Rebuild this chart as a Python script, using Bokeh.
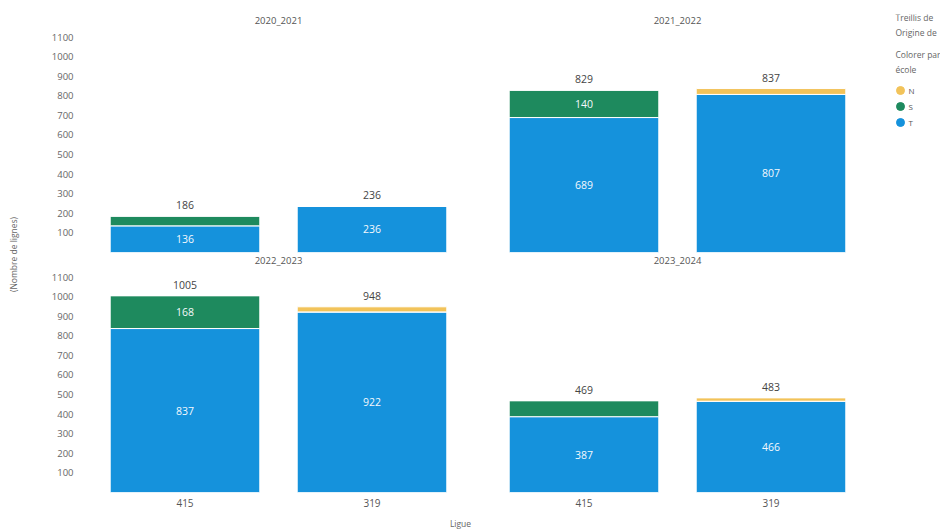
import math
from bokeh.plotting import figure
from bokeh.models import (FactorRange, Range1d, FixedTicker, Label, ColumnDataSource)
from bokeh.layouts import row, column
from bokeh.embed import file_html
from bokeh.resources import INLINE
from bokeh.core.properties import value

# ---------------- data ----------------
years = ["2020_2021", "2021_2022", "2022_2023", "2023_2024"]
ligues = ["415", "319"]
T_vals = [[136, 236], [689, 807], [837, 922], [387, 466]]
S_vals = [[50, 0], [140, 0], [168, 0], [82, 0]]
N_vals = [[0, 0], [0, 30], [0, 26], [0, 17]]
legend_order = ["N", "S", "T"]
y_ticks = [100, 200, 300, 400, 500, 600, 700, 800, 900, 1000, 1100]
legend_heading = ["Treillis de", "Origine de", "Colorer par", "école"]
y_title = "(Nombre de lignes)"
x_title = "Ligue"

# ---------------- style ----------------
COLORS = {"T": "#1592DC", "S": "#1E8A5E", "N": "#F2C35A"}
FONT = "Open Sans"
Y_MAX = 1215
TITLE_Y = 1185
FRAME_W = 374
FRAME_H = 238
MIN_LABEL = 100
LEG_SHIFT = 14


def blank(p):
    p.min_border = 0
    p.min_border_left = 0
    p.min_border_right = 0
    p.min_border_top = 0
    p.min_border_bottom = 0
    p.outline_line_color = None
    p.xgrid.visible = False
    p.ygrid.visible = False


def strip_fig(w, h):
    p = figure(x_range=Range1d(0, w), y_range=Range1d(0, h),
               frame_width=w, frame_height=h, title=None,
               x_axis_location=None, y_axis_location=None,
               output_backend="svg", toolbar_location=None, tools="")
    blank(p)
    return p


def panel(i, left, bottom):
    p = figure(x_range=FactorRange(*ligues), y_range=Range1d(0, Y_MAX),
               frame_width=FRAME_W, frame_height=FRAME_H, title=None,
               x_axis_location="below" if bottom else None,
               y_axis_location="left" if left else None,
               output_backend="svg", toolbar_location=None, tools="")
    blank(p)
    p.min_border_left = 69 if left else 13
    p.min_border_right = 12 if left else 0
    p.min_border_top = 0 if bottom else 14
    p.min_border_bottom = 22 if bottom else 2

    T = T_vals[i]
    S = S_vals[i]
    N = N_vals[i]
    src = ColumnDataSource(dict(x=ligues, T=T, S=S, N=N))
    p.vbar_stack(["T", "S", "N"], x="x", width=0.8, source=src,
                 color=[COLORS["T"], COLORS["S"], COLORS["N"]],
                 line_color="white", line_width=1)

    totals = [a + b + c for a, b, c in zip(T, S, N)]
    p.text(x=ligues, y=totals, text=[str(t) for t in totals],
           text_align="center", text_baseline="middle", y_offset=-11,
           text_font=value(FONT), text_font_size="10.5px", text_color="#444444")

    lx, ly, lt = [], [], []
    for k, lig in enumerate(ligues):
        base = 0
        for seg in (T, S, N):
            v = seg[k]
            if v >= MIN_LABEL:
                lx.append(lig)
                ly.append(base + v / 2)
                lt.append(str(v))
            base += v
    p.text(x=lx, y=ly, text=lt, text_align="center", text_baseline="middle",
           text_font=value(FONT), text_font_size="10.5px", text_color="#F4F8FC")

    p.add_layout(Label(x=FRAME_W / 2, y=TITLE_Y, x_units="screen", y_units="data",
                       text=years[i], text_align="center", text_baseline="middle",
                       text_font=FONT, text_font_size="9.5px", text_color="#555555"))

    if left:
        ax = p.yaxis[0]
        ax.ticker = FixedTicker(ticks=y_ticks)
        ax.axis_line_color = None
        ax.major_tick_line_color = None
        ax.minor_tick_line_color = None
        ax.major_tick_out = 0
        ax.major_tick_in = 0
        ax.major_label_standoff = 18
        ax.major_label_text_font = FONT
        ax.major_label_text_font_size = "9.5px"
        ax.major_label_text_color = "#666666"
    if bottom:
        ax = p.xaxis[0]
        ax.axis_line_color = None
        ax.major_tick_line_color = None
        ax.minor_tick_line_color = None
        ax.major_tick_out = 0
        ax.major_tick_in = 0
        ax.major_label_standoff = 6
        ax.major_label_text_font = FONT
        ax.major_label_text_font_size = "10px"
        ax.major_label_text_color = "#555555"
    return p


tl = panel(0, True, False)
tr = panel(1, False, False)
bl = panel(2, True, True)
br = panel(3, False, True)

# ---------- y title strip ----------
strip = strip_fig(22, 530)
strip.text(x=[13], y=[276], text=[y_title], angle=math.pi / 2,
           text_align="center", text_baseline="middle",
           text_font=value(FONT), text_font_size="8.5px", text_color="#666666")

# ---------- x title strip ----------
xstrip = strip_fig(842, 16)
xstrip.text(x=[438], y=[7], text=[x_title], text_align="center", text_baseline="middle",
            text_font=value(FONT), text_font_size="8.5px", text_color="#666666")

# ---------- legend (pixel-space figure) ----------
lp = strip_fig(76, 254)
head_y = [y + LEG_SHIFT for y in (237, 222, 200, 185)]
lp.text(x=[31, 31, 31, 31], y=head_y, text=legend_heading,
        text_align="left", text_baseline="middle",
        text_font=value(FONT), text_font_size="8.5px", text_color="#666666")
leg_y = [164 + LEG_SHIFT - 16 * k for k in range(len(legend_order))]
lp.scatter(x=[36] * len(legend_order), y=leg_y, marker="circle", size=8,
           fill_color=[COLORS[s] for s in legend_order],
           line_color=[COLORS[s] for s in legend_order])
lp.text(x=[44] * len(legend_order), y=leg_y, text=legend_order,
        text_align="left", text_baseline="middle",
        text_font=value(FONT), text_font_size="8px", text_color="#555555")

layout = row(strip, column(row(tl, tr, lp), row(bl, br), xstrip))

open("out.html", "w").write(file_html(layout, INLINE))
